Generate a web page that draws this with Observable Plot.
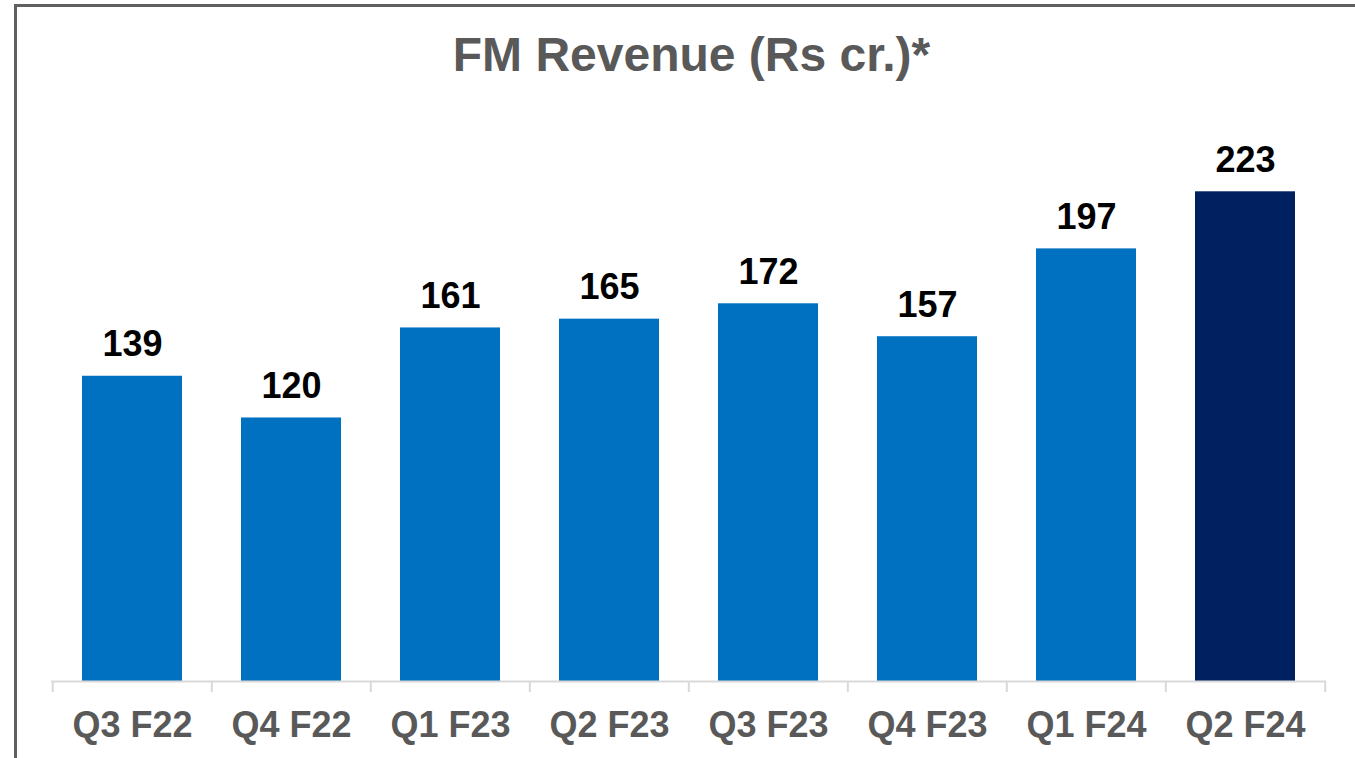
<!DOCTYPE html>
<html><head><meta charset="utf-8">
<script src="https://cdn.jsdelivr.net/npm/d3@7"></script>
<script src="https://cdn.jsdelivr.net/npm/@observablehq/plot@0.6"></script>
<style>
html,body{margin:0;padding:0;background:#fff;overflow:hidden;width:1355px;height:758px}
#frame{position:absolute;left:14px;top:4px;width:1400px;height:800px;border-top:3px solid #606060;border-left:3px solid #606060;box-sizing:border-box}
#title{position:absolute;left:0;top:31px;width:1383px;text-align:center;font:bold 48px/48px Arial,"Liberation Sans",sans-serif;color:#595959;white-space:nowrap}
#chart{position:absolute;left:0;top:100px}
</style></head><body>
<div id="frame"></div>
<div id="title">FM Revenue (Rs cr.)*</div>
<div id="chart"></div>
<script>
const quarters = ["Q3 F22","Q4 F22","Q1 F23","Q2 F23","Q3 F23","Q4 F23","Q1 F24","Q2 F24"];
const revenue = [139,120,161,165,172,157,197,223];
const barColors = ["#0070C0","#0070C0","#0070C0","#0070C0","#0070C0","#0070C0","#0070C0","#002060"];

const data = quarters.map((q,i)=>({quarter:q, value:revenue[i], color:barColors[i]}));
const W=1355, H=658, mL=51, mR=29, n=quarters.length;
const step=(W-mL-mR)/n;
const font='Arial, "Liberation Sans", sans-serif';
const chart = Plot.plot({
  width:W, height:H, marginLeft:mL, marginRight:mR, marginTop:32, marginBottom:77,
  style:{fontFamily:font, background:"transparent", overflow:"visible"},
  x:{domain:quarters, paddingInner:0.3725, paddingOuter:0.18625, label:null},
  y:{domain:[0,250], axis:null},
  marks:[
    Plot.barY(data,{x:"quarter", y:"value", fill:"color"}),
    Plot.ruleY([0],{stroke:"#d9d9d9", strokeWidth:2}),
    Plot.ruleX(quarters,{x:d=>d, y1:0, y2:-5, dx:-step/2, stroke:"#d9d9d9", strokeWidth:2}),
    Plot.ruleX([quarters[n-1]],{x:d=>d, y1:0, y2:-5, dx:step/2, stroke:"#d9d9d9", strokeWidth:2}),
    Plot.text(data,{x:"quarter", y:"value", text:d=>String(d.value), lineAnchor:"bottom", dy:-20, fontSize:36, fontWeight:"bold", fill:"#000"}),
    Plot.axisX({tickSize:0, tickPadding:30, fontSize:36, fontWeight:"bold", color:"#595959", label:null})
  ]
});
document.getElementById("chart").appendChild(chart);
</script>
</body></html>
